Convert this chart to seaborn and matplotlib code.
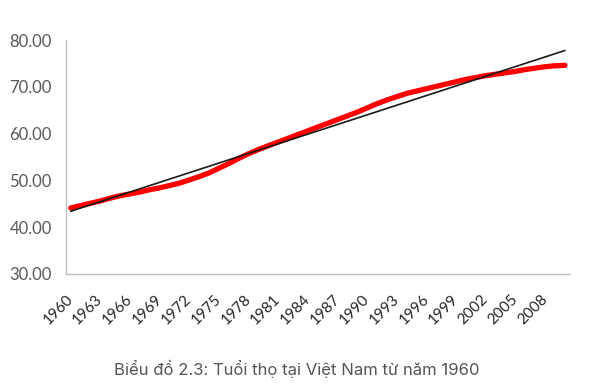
import numpy as np
import pandas as pd
import seaborn as sns
import matplotlib.pyplot as plt

# life expectancy in Viet Nam
years = list(range(1960, 2011))
life_exp = [44.1, 44.6, 45.1, 45.6, 46.2, 46.7, 47.1, 47.5, 48.0, 48.4,
            48.9, 49.4, 50.1, 50.8, 51.6, 52.6, 53.6, 54.7, 55.7, 56.6,
            57.4, 58.2, 59.0, 59.8, 60.6, 61.4, 62.2, 63.0, 63.8, 64.6,
            65.5, 66.4, 67.2, 67.9, 68.6, 69.1, 69.6, 70.1, 70.6, 71.1,
            71.6, 72.0, 72.4, 72.7, 73.0, 73.3, 73.7, 74.0, 74.3, 74.5,
            74.6]
tick_years = list(range(1960, 2009, 3))
y_ticks = [30, 40, 50, 60, 70, 80]
caption = "Biểu đồ 2.3: Tuổi thọ tại Việt Nam từ năm 1960"

df = pd.DataFrame({"year": years, "life": life_exp})
# linear trend line
coef = np.polyfit(df["year"], df["life"], 1)
df["trend"] = np.polyval(coef, df["year"])

sns.set_style("white")
plt.rcParams['font.family'] = ['Lato', 'DejaVu Sans']

fig = plt.figure(figsize=(5.93, 3.89), dpi=100)
ax = fig.add_axes([0.111, 0.296, 0.85, 0.601])

sns.lineplot(data=df, x="year", y="life", color="#ff0000", linewidth=3.8, ax=ax)
sns.lineplot(data=df, x="year", y="trend", color="#1a1a1a", linewidth=1.2, ax=ax)

ax.set_xlim(1959.5, 2010.5)
ax.set_ylim(30, 80)
ax.set_yticks(y_ticks)
ax.set_yticklabels([f"{v:.2f}" for v in y_ticks], fontsize=12, color="#595959")
ax.set_xticks(tick_years)
ax.set_xticklabels([str(y) for y in tick_years], rotation=45, ha="right",
                   va="center", rotation_mode="anchor", fontsize=11,
                   color="#262626")
ax.tick_params(axis="both", length=0)
ax.tick_params(axis="x", pad=17)
ax.tick_params(axis="y", pad=10)
ax.set_xlabel("")
ax.set_ylabel("")

for s in ["top", "right"]:
    ax.spines[s].set_visible(False)
for s in ["left", "bottom"]:
    ax.spines[s].set_color("#bfbfbf")
    ax.spines[s].set_linewidth(1.0)

fig.text(0.5, 0.052, caption, ha="center", va="center", fontsize=12,
         color="#555555", family=["Inter", "DejaVu Sans"])

fig.savefig("out.png", dpi=100, facecolor="white")
